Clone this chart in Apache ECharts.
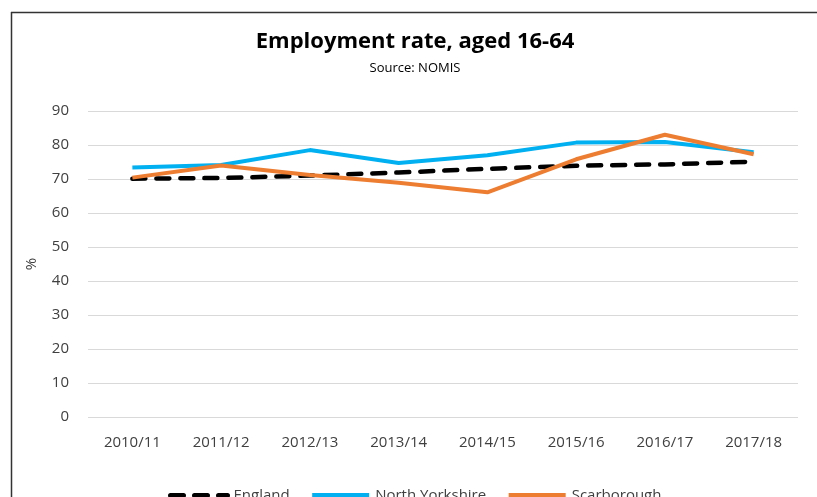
<!DOCTYPE html>
<html>
<head>
<meta charset="utf-8">
<script src="https://cdn.jsdelivr.net/npm/echarts@6/dist/echarts.min.js"></script>
<style>
  html, body { margin: 0; padding: 0; background: #fff; }
  #chart { width: 817px; height: 497px; }
</style>
</head>
<body>
<div id="chart"></div>
<script>
const years = ['2010/11', '2011/12', '2012/13', '2013/14', '2014/15', '2015/16', '2016/17', '2017/18']
const england = [70.1, 70.3, 71.0, 71.9, 73.0, 73.9, 74.3, 75.1]
const northYorkshire = [73.4, 74.1, 78.5, 74.7, 77.0, 80.7, 80.9, 77.9]
const scarborough = [70.4, 74.0, 71.2, 68.9, 66.1, 75.8, 83.0, 77.3]
const yTicks = [0, 90, 10]

const font = '"Open Sans", sans-serif'
const chart = echarts.init(document.getElementById('chart'), null, { renderer: 'canvas' })

const option = {
  backgroundColor: '#fff',
  animation: false,
  title: {
    text: 'Employment rate, aged 16-64',
    subtext: 'Source: NOMIS',
    left: 410,
    textAlign: 'center',
    top: 26,
    itemGap: 9,
    textStyle: { fontFamily: font, fontSize: 22, fontWeight: 'bold', color: '#000' },
    subtextStyle: { fontFamily: font, fontSize: 13, color: '#000' }
  },
  legend: {
    data: ['England', 'North Yorkshire', 'Scarborough'],
    left: 163,
    top: 483,
    itemWidth: 57,
    itemHeight: 8,
    itemGap: 20,
    itemStyle: { opacity: 0 },
    lineStyle: { width: 5 },
    textStyle: { fontFamily: font, fontSize: 15, color: '#404040', padding: [0, 0, 0, 1] }
  },
  grid: { left: 88, right: 19, top: 111, bottom: 80 },
  xAxis: {
    type: 'category',
    data: years,
    boundaryGap: true,
    axisLine: { show: false },
    axisTick: { show: false },
    axisLabel: { fontFamily: font, fontSize: 15, color: '#404040', margin: 18 }
  },
  yAxis: {
    type: 'value',
    min: yTicks[0],
    max: yTicks[1],
    interval: yTicks[2],
    name: '%',
    nameLocation: 'middle',
    nameGap: 49,
    nameRotate: 90,
    nameTextStyle: { fontFamily: font, fontSize: 15, color: '#404040' },
    axisLine: { show: false },
    axisTick: { show: false },
    axisLabel: { fontFamily: font, fontSize: 15, color: '#404040', margin: 19 },
    splitLine: { lineStyle: { color: '#D9D9D9', width: 1 } }
  },
  series: [{
    name: 'England',
    type: 'line',
    data: england,
    symbol: 'none',
    color: '#000',
    z: 3,
    lineStyle: { width: 4.5, type: [13, 11], cap: 'round', color: '#000' }
  }, {
    name: 'North Yorkshire',
    type: 'line',
    data: northYorkshire,
    symbol: 'none',
    color: '#00B0F0',
    z: 2,
    lineStyle: { width: 4, color: '#00B0F0' }
  }, {
    name: 'Scarborough',
    type: 'line',
    data: scarborough,
    symbol: 'none',
    color: '#ED7D31',
    z: 4,
    lineStyle: { width: 4, color: '#ED7D31' }
  }],
  graphic: [{
    type: 'line',
    shape: { x1: 11, y1: 12.5, x2: 817, y2: 12.5 },
    style: { stroke: '#333', lineWidth: 1.5 }
  }, {
    type: 'line',
    shape: { x1: 11.5, y1: 12, x2: 11.5, y2: 497 },
    style: { stroke: '#333', lineWidth: 1.5 }
  }]
}

chart.setOption(option)
</script>
</body>
</html>
